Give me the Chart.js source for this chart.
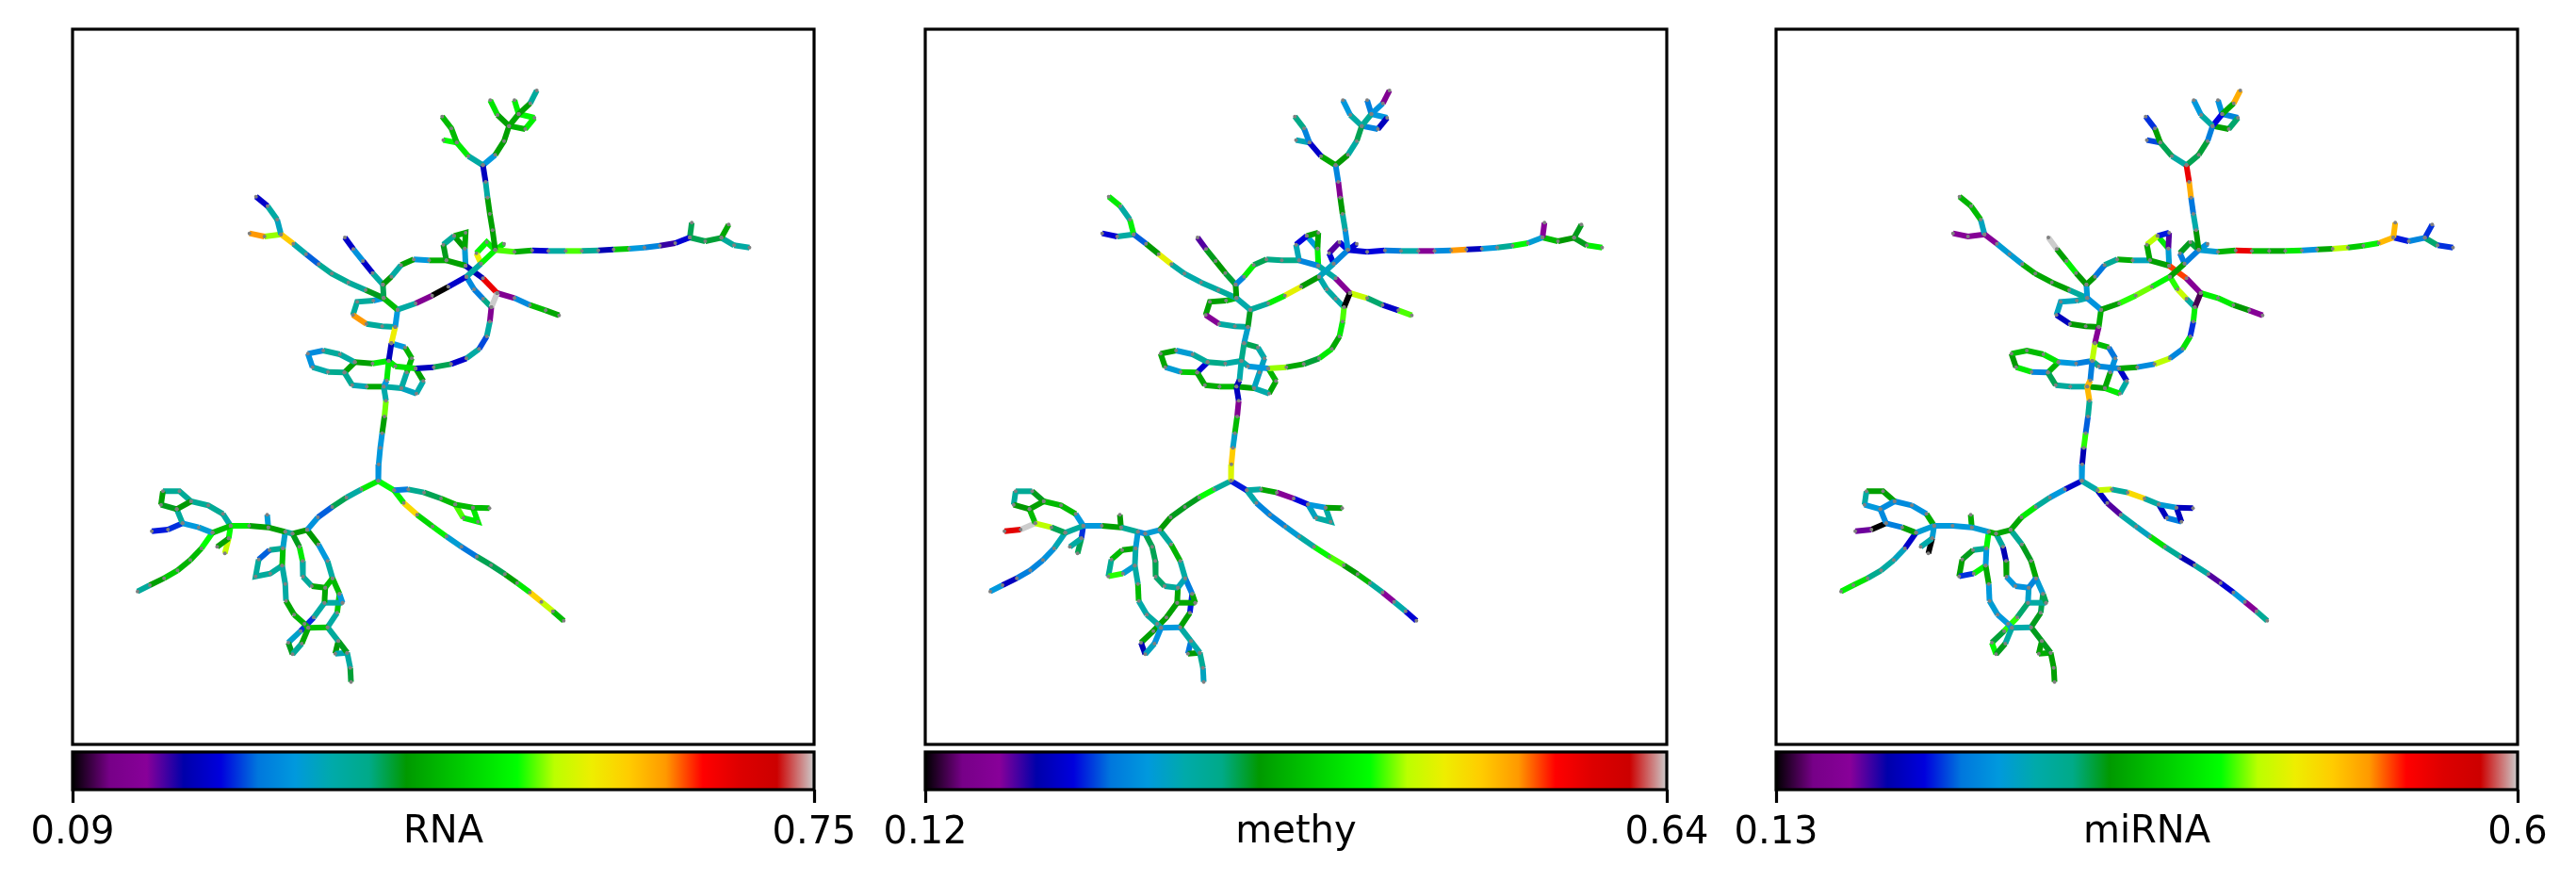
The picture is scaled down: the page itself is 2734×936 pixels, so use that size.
<!DOCTYPE html>
<html>
<head>
<meta charset="utf-8">
<title>Trajectory tree</title>
<script src="https://cdn.jsdelivr.net/npm/chart.js@4"></script>
<style>
    html, body { margin: 0; padding: 0; background: #fff; }
    #page { position: relative; width: 2734px; height: 936px; overflow: hidden; }
    canvas { position: absolute; }
</style>
</head>
<body>
<div id="page"></div>
<script>
// tree layout, same in all three panels. one polyline per branch
const treeBranches = [
    [[797,555],[790,492],[783,440],[777,388],[772,338],[765,285]],
    [[765,285],[727,256],[697,213],[683,168],[659,130]],
    [[697,213],[662,205]],
    [[765,285],[797,252],[820,208],[833,160]],
    [[833,160],[803,125],[784,78]],
    [[833,160],[858,122],[888,88],[905,47]],
    [[858,122],[847,78]],
    [[858,122],[899,134],[875,170],[833,160]],
    [[797,555],[847,561],[893,556],[935,558],[980,558],[1022,558],[1065,556],[1105,553],[1145,551],[1185,547],[1225,541],[1265,533],[1303,515]],
    [[1303,515],[1308,468]],
    [[1303,515],[1343,527],[1385,516]],
    [[1385,516],[1404,474]],
    [[1385,516],[1418,540],[1458,547]],
    [[797,555],[760,598],[722,640]],
    [[797,555],[775,530],[748,565],[760,598]],
    [[797,555],[820,535]],
    [[722,640],[675,672],[633,700],[590,725],[543,745]],
    [[543,745],[507,708]],
    [[543,745],[537,800]],
    [[537,800],[527,852]],
    [[527,852],[520,908]],
    [[520,908],[515,970],[507,990],[513,1035],[509,1085],[503,1138],[498,1185],[494,1237],[493,1290]],
    [[432,912],[478,916],[520,908],[537,925],[590,932]],
    [[590,932],[637,928],[682,918],[722,900],[755,870],[775,830],[783,783],[787,737],[802,692]],
    [[720,605],[765,645],[802,692]],
    [[802,692],[847,708],[887,730],[928,747],[963,763]],
    [[722,640],[742,680],[765,710],[787,737]],
    [[720,605],[718,550],[720,500],[690,510],[662,538],[670,588],[720,605]],
    [[690,510],[718,550]],
    [[670,588],[625,588],[585,585],[552,603],[527,640],[505,665]],
    [[505,665],[478,628],[453,590],[428,552],[406,515]],
    [[505,665],[507,708]],
    [[507,708],[460,682],[415,658],[372,630],[338,600],[305,568],[272,535],[240,505]],
    [[240,505],[230,458],[205,415],[175,385]],
    [[240,505],[197,512],[158,502]],
    [[507,708],[480,716],[438,720],[427,762],[462,790],[503,798],[537,800]],
    [[527,852],[563,865],[580,900],[567,945],[553,995]],
    [[590,932],[610,972],[592,1012],[553,995],[507,990],[463,990],[425,985],[405,945]],
    [[405,945],[362,943],[322,928],[310,885],[350,875],[393,887],[432,912]],
    [[405,945],[432,912]],
    [[493,1290],[534,1320],[571,1317],[612,1327],[656,1346],[693,1365],[739,1375],[782,1377]],
    [[693,1365],[714,1408],[752,1420],[739,1375]],
    [[534,1320],[559,1360],[594,1398],[634,1435],[670,1467],[709,1500],[749,1531],[786,1558],[822,1587],[854,1615],[887,1645],[917,1675],[947,1705],[975,1735]],
    [[493,1290],[449,1317],[410,1343],[373,1373],[336,1406],[308,1446]],
    [[308,1446],[270,1458],[251,1452],[207,1438],[157,1433],[109,1433],[62,1455]],
    [[207,1438],[204,1398]],
    [[109,1433],[89,1395],[51,1368],[6,1355],[-24,1323],[-67,1323],[-72,1366],[-31,1380],[6,1355]],
    [[-31,1380],[-16,1425],[26,1438],[62,1455]],
    [[-16,1425],[-54,1445],[-96,1450]],
    [[62,1455],[33,1505],[4,1542],[-29,1575],[-64,1600],[-101,1622],[-133,1642]],
    [[109,1433],[104,1473],[74,1500]],
    [[104,1473],[94,1521]],
    [[251,1452],[245,1505],[243,1560],[251,1618],[253,1672],[274,1716],[301,1745],[311,1758]],
    [[245,1505],[210,1510],[182,1540],[174,1594],[212,1585],[243,1560]],
    [[270,1458],[288,1500],[296,1545],[297,1595],[320,1625],[355,1630],[374,1600]],
    [[308,1446],[337,1492],[361,1545],[374,1600],[392,1650],[400,1678]],
    [[355,1630],[353,1678],[325,1725],[291,1768],[259,1805],[270,1842],[294,1808],[311,1758]],
    [[353,1678],[400,1678]],
    [[392,1650],[386,1710],[361,1756],[311,1758]],
    [[361,1756],[389,1800],[412,1837],[420,1885],[422,1930]],
    [[389,1800],[381,1840],[412,1837]]
];

// edge values per branch, read as position along the colorbar (0 = low end, 1 = high end)
const rnaValues = [
    [.46,.46,.46,.36,.17],[.36,.57,.5,.5],[.6],[.3,.46,.46],[.46,.56],[.47,.46,.37],[.58],[.59,.58,.49],
    [.62,.48,.19,.36,.62,.38,.16,.52,.3,.27,.13,.19],[.42],[.42,.43],[.47],[.37,.36],
    [.58,.36],[.59,.59,.7],[.57],[.18,0,.08,.36],[.5],[.3],[.7],[.17],
    [.57,.3,.35,.63,.46,.3,.3,.29],[.46,.57,.57,.56],[.17,.42,.18,.36,.23,.36,.08,1],[.16,.88],
    [.08,.28,.5,.47],[.28,.26,.4],[.31,.47,.47,.37,.44,.46],[.45],[.48,.3,.46,.36,.45],[.36,.18,.29,.18],[.42],
    [.44,.37,.38,.38,.24,.35,.75],[.33,.36,.18],[.64,.8],[.3,.37,.37,.8,.37,.37],[.3,.49,.5,.36],
    [.46,.35,.33,.36,.47,.34,.38],[.39,.35,.29,.28,.37,.36],[.46],
    [.6,.26,.39,.42,.5,.5,.5],[.62,.57,.57],[.58,.73,.54,.58,.31,.25,.42,.42,.46,.57,.74,.66,.5],
    [.57,.36,.42,.24,.29],[.45,.38,.46,.46,.57,.5],[.31],[.36,.38,.38,.38,.38,.46,.44,.45],[.37,.3,.31],[.22,.21],
    [.6,.5,.49,.52,.46,.37],[.6,.46],[.66],[.32,.51,.36,.36,.47,.49,.5],[.38,.24,.37,.37,.37],
    [.44,.57,.36,.37,.47,.5],[.45,.3,.36,.5,.3],[.47,.36,.22,.32,.44,.37,.47],[.36],[.52,.36,.51],[.37,.44,.36,.43],[.45,.34]
];
const methyValues = [
    [.29,.36,.45,.08,.27],[.47,.18,.27,.4],[.34],[.45,.36,.42],[.36,.3],[.38,.29,.08],[.26],[.3,.17,.27],
    [.19,.2,.26,.35,.09,.28,.8,.17,.3,.38,.59,.31],[.1],[.5,.45],[.44],[.44,.58],
    [.27,.33],[.2,.12,.19],[.19],[.45,.69,.58,.37],[.35],[.44],[.32],[.4],
    [.35,.16,.17,.08,.5,.32,.75,.68],[.4,.36,.35,.3],[.64,.47,.43,.57,.47,.57,.62,0],[.36,.09],
    [.66,.41,.18,.62],[.35,.36,.35],[.58,.47,.46,.2,.34,.27],[.3],[.4,.4,.42,.58,.27],[.43,.45,.44,.12],[.45],
    [.37,.36,.35,.36,.69,.45,.24],[.58,.36,.57],[.36,.19],[.5,.46,.46,.09,.36,.36],[.42,.35,.33,.33],
    [.49,.47,.35,.46,.5,.48,.47],[.52,.31,.47,.46,.31,.37],[.19],
    [.21,.36,.47,.09,.2,.3,.46],[.33,.36,.36],[.35,.27,.27,.31,.36,.59,.62,.45,.5,.37,.1,.35,.19],
    [.37,.6,.44,.44,.45],[.31,.28,.38,.46,.3,.37],[.45],[.3,.5,.5,.44,.38,.37,.45,.46],[.5,.65,.42],[1,.89],
    [.34,.29,.27,.26,.17,.3],[.22,.36],[.42],[.31,.35,.36,.5,.35,.36,.36],[.47,.5,.38,.61,.31],
    [.42,.42,.42,.41,.37,.34],[.37,.49,.36,.26,.47],[.47,.46,.46,.46,.16,.33,.29],[.47],[.21,.46,.3],[.36,.35,.38,.33],[.25,.45]
];
const mirnaValues = [
    [.45,.35,.25,.78,.88],[.36,.42,.46,.22],[.23],[.42,.43,.26],[.36,.3],[.2,.47,.78],[.29],[.27,.41,.46],
    [.31,.49,.88,.5,.47,.57,.29,.47,.65,.52,.58,.77],[.77],[.21,.27],[.22],[.41,.22],
    [.26,.46],[.43,.44,.26],[.29],[.59,.63,.61,.46],[.29],[.48],[.09],[.65],
    [.26,.77,.77,.38,.24,.61,.16,.3],[.3,.26,.4,.28],[.47,.28,.65,.27,.56,.22,.58,.03],[.83,.09],
    [.58,.57,.45,.09],[.61,.66,.36],[.31,.12,.21,.65,.47,.46],[.57],[.33,.48,.38,.25,.45],[.45,.58,.46,1],[.31],
    [.37,.46,.47,.48,.31,.31,.09],[.33,.5,.49],[.09,.09],[.35,.33,.33,.17,.45,.45],[.5,.25,.29,.47],
    [.18,.36,.57,.46,.36,.37,.42],[.27,.57,.45,.5,.5,.56],[.49],
    [.35,.66,.37,.73,.36,.31,.17],[.17,.26,.17],[.17,.12,.35,.33,.56,.38,.16,.36,.12,.19,.3,.09,.38],
    [.18,.3,.37,.57,.47],[.47,.48,.31,.3,.3,.31],[.48],[.48,.29,.28,.46,.46,.36,.3,.28],[.28,.26,.46],[0,.11],
    [.18,.33,.36,.39,.56,.58],[.31,.35],[0],[.59,.3,.47,.3,.31,.3,.31],[.38,.44,.46,.22,.59],
    [.37,.16,.46,.3,.29,.27],[.38,.44,.47,.31,.42],[.32,.41,.61,.43,.59,.44,.36],[.36],[.42,.44,.35],[.44,.44,.46,.46],[.46,.48]
];

const panelNames = ['RNA', 'methy', 'miRNA'];
const panelValues = [rnaValues, methyValues, mirnaValues];
const panelRanges = [[0.09, 0.75], [0.12, 0.64], [0.13, 0.6]];
const panelLefts = [77, 982, 1885];

// nipy_spectral, one colour every 0.05
const spectralColors = [
    [0,0,0],[119,0,136],[136,0,153],[0,0,170],[0,0,221],[0,119,221],[0,153,221],
    [0,170,170],[0,170,136],[0,153,0],[0,187,0],[0,221,0],[0,255,0],[187,255,0],
    [238,238,0],[255,204,0],[255,153,0],[255,0,0],[221,0,0],[204,0,0],[204,204,204]
];

const FRAME_WIDTH = 787;
const FRAME_TOP = 31;
const FRAME_HEIGHT = 759;
const BAR_TOP = 798;
const BAR_HEIGHT = 40;
const LINE_W = 3.2;

Chart.defaults.font.family = '"DejaVu Sans", sans-serif';
Chart.defaults.font.size = 40;
Chart.defaults.color = '#000';
Chart.defaults.animation = false;

function spectralAt(pos) {
    const scaled = Math.min(pos, 1) * (spectralColors.length - 1);
    const low = Math.floor(scaled);
    const high = Math.min(low + 1, spectralColors.length - 1);
    const mix = scaled - low;
    const rgb = spectralColors[low].map((c, i) => Math.round(c + (spectralColors[high][i] - c) * mix));
    return `rgb(${rgb[0]}, ${rgb[1]}, ${rgb[2]})`;
}

// black box round the plot area
const frameBox = {
    id: 'frameBox',
    afterDraw(chart) {
        const { ctx, chartArea } = chart;
        ctx.save();
        ctx.strokeStyle = '#000';
        ctx.lineWidth = LINE_W;
        ctx.strokeRect(chartArea.left, chartArea.top, chartArea.right - chartArea.left, chartArea.bottom - chartArea.top);
        ctx.restore();
    }
};

function addCanvas(left, top, width, height) {
    const canvas = document.createElement('canvas');
    canvas.width = width;
    canvas.height = height;
    canvas.style.left = `${left}px`;
    canvas.style.top = `${top}px`;
    canvas.style.width = `${width}px`;
    canvas.style.height = `${height}px`;
    document.getElementById('page').appendChild(canvas);
    return canvas;
}

function drawTree(panelIndex) {
    const values = panelValues[panelIndex];
    const canvas = addCanvas(panelLefts[panelIndex] - 4, FRAME_TOP - 4, FRAME_WIDTH + 8, FRAME_HEIGHT + 8);

    const nodes = treeBranches.flat().map(([x, y]) => ({ x, y }));
    const datasets = [{
        data: nodes,
        showLine: false,
        pointRadius: 2,
        pointBackgroundColor: '#808080',
        pointBorderWidth: 0
    }];
    treeBranches.forEach((branch, b) => {
        datasets.push({
            data: branch.map(([x, y]) => ({ x, y })),
            showLine: true,
            pointRadius: 0,
            borderWidth: 6,
            borderCapStyle: 'butt',
            borderColor: spectralAt(values[b][0]),
            segment: {
                borderColor: ctx => spectralAt(values[b][ctx.p0DataIndex])
            }
        });
    });

    new Chart(canvas, {
        type: 'scatter',
        data: { datasets },
        plugins: [frameBox],
        options: {
            responsive: false,
            layout: { padding: 4 },
            plugins: { legend: { display: false }, tooltip: { enabled: false } },
            scales: {
                x: { display: false, min: -302, max: 1626 },
                y: { display: false, reverse: true, min: -148, max: 2129 }
            }
        }
    });
}

function drawColorbar(panelIndex) {
    const [low, high] = panelRanges[panelIndex];
    const canvas = addCanvas(panelLefts[panelIndex] - 70, BAR_TOP - 4, FRAME_WIDTH + 140, 936 - BAR_TOP + 4);

    new Chart(canvas, {
        type: 'bar',
        data: {
            labels: [panelNames[panelIndex]],
            datasets: [{
                data: [[low, high]],
                categoryPercentage: 1,
                barPercentage: 1,
                backgroundColor: ({ chart }) => {
                    const area = chart.chartArea;
                    if (!area) return '#000';
                    const gradient = chart.ctx.createLinearGradient(area.left, 0, area.right, 0);
                    spectralColors.forEach((c, i) => {
                        gradient.addColorStop(i / (spectralColors.length - 1), `rgb(${c[0]}, ${c[1]}, ${c[2]})`);
                    });
                    return gradient;
                }
            }]
        },
        plugins: [frameBox],
        options: {
            indexAxis: 'y',
            responsive: false,
            layout: { padding: { left: 70, right: 70, top: 4, bottom: 0 } },
            plugins: { legend: { display: false }, tooltip: { enabled: false } },
            scales: {
                y: { display: false },
                x: {
                    min: low,
                    max: high,
                    border: { display: false },
                    grid: { drawOnChartArea: false, tickLength: 14, tickWidth: LINE_W, tickColor: '#000' },
                    ticks: { autoSkip: false, maxRotation: 0, padding: 9, callback: value => String(value) },
                    afterBuildTicks: scale => { scale.ticks = [{ value: low }, { value: high }]; },
                    afterFit: scale => { scale.height = 936 - BAR_TOP - BAR_HEIGHT; },
                    title: { display: true, text: panelNames[panelIndex], padding: { top: 0, bottom: 28 } }
                }
            }
        }
    });
}

panelNames.forEach((name, i) => {
    drawTree(i);
    drawColorbar(i);
});
</script>
</body>
</html>
